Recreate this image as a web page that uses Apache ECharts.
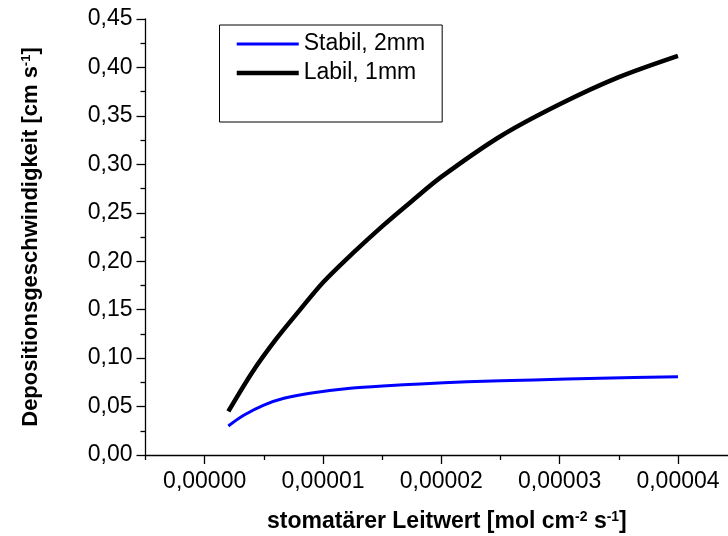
<!DOCTYPE html>
<html>
<head>
<meta charset="utf-8">
<script src="https://cdn.jsdelivr.net/npm/echarts@6/dist/echarts.min.js"></script>
<style>html,body{margin:0;padding:0;background:#fff}#c{width:728px;height:536px}</style>
</head>
<body>
<div id="c"></div>
<script>
var stabilX = [0.2e-5,0.33e-5,0.5e-5,0.67e-5,0.89e-5,1.23e-5,1.54e-5,1.82e-5,2.22e-5,2.78e-5,3.34e-5,4.0e-5];
var stabilY = [0.030,0.041,0.0515,0.0585,0.0637,0.0688,0.0715,0.0733,0.0755,0.0775,0.0792,0.0808];
var labilX = [0.2e-5,0.4e-5,0.6e-5,0.8e-5,1.0e-5,1.25e-5,1.5e-5,1.75e-5,2.0e-5,2.5e-5,3.0e-5,3.5e-5,4.0e-5];
var labilY = [0.045,0.085,0.119,0.149,0.178,0.208,0.236,0.262,0.287,0.329,0.362,0.390,0.412];
var xMajorTicks = [0,1e-5,2e-5,3e-5,4e-5,5e-5];
var xMinorTicks = [-0.5e-5,0.5e-5,1.5e-5,2.5e-5,3.5e-5,4.5e-5];
var seriesNames = ['Stabil, 2mm','Labil, 1mm'];

function pairs(xs, ys){ return xs.map(function(x,i){ return [x, ys[i]]; }); }

var font = 'Arial, "Liberation Sans", sans-serif';
var chart = echarts.init(document.getElementById('c'), null, {renderer:'canvas'});
chart.setOption({
  animation:false,
  backgroundColor:'#fff',
  grid:{left:145.5, top:19, width:650.8, height:436, containLabel:false, outerBoundsMode:'none'},
  legend:{
    left:219.5, top:25, orient:'vertical',
    data:[
      {name:seriesNames[0], lineStyle:{width:3, color:'#0000ff'}},
      {name:seriesNames[1], lineStyle:{width:4.5, color:'#000'}}
    ],
    borderColor:'#000', borderWidth:1, borderRadius:0,
    padding:[6,17,36,15],
    itemWidth:62, itemHeight:14, itemGap:3,
    itemStyle:{opacity:0},
    textStyle:{fontFamily:font, fontSize:23, color:'#000', lineHeight:26}
  },
  xAxis:[{
    type:'value', min:-0.5e-5, max:5e-5, interval:0.5e-5,
    axisLine:{onZero:false, lineStyle:{color:'#000', width:1.3}},
    axisTick:{show:true, customValues:xMajorTicks, length:9, lineStyle:{color:'#000', width:1.3}},
    axisLabel:{customValues:xMajorTicks, margin:15, color:'#000', fontFamily:font, fontSize:23,
      formatter:function(v){ return v.toFixed(5).replace('.', ','); }},
    splitLine:{show:false},
    name:'{b|stomatärer Leitwert [mol cm}{s|-2}{b| s}{s|-1}{b|]}',
    nameLocation:'middle', nameGap:55,
    nameTextStyle:{padding:[0,48,0,0], rich:{
      b:{fontFamily:font, fontSize:23, fontWeight:'bold', color:'#000'},
      s:{fontFamily:font, fontSize:14, fontWeight:'bold', color:'#000', verticalAlign:'top', padding:[0,0,10,0]}
    }}
  },{
    type:'value', min:-0.5e-5, max:5e-5, interval:0.5e-5, position:'bottom',
    axisLine:{show:false, onZero:false},
    axisTick:{show:true, customValues:xMinorTicks, length:5, lineStyle:{color:'#000', width:1.3}},
    axisLabel:{show:false}, splitLine:{show:false}
  }],
  yAxis:{
    type:'value', min:0, max:0.45, interval:0.05,
    axisLine:{show:true, onZero:false, lineStyle:{color:'#000', width:1.3}},
    axisTick:{show:true, length:9, lineStyle:{color:'#000', width:1.3}},
    minorTick:{show:true, splitNumber:2, length:5, lineStyle:{color:'#000', width:1.3}},
    axisLabel:{margin:13, color:'#000', fontFamily:font, fontSize:23,
      formatter:function(v){ return v.toFixed(2).replace('.', ','); }},
    splitLine:{show:false},
    name:'{b|Depositionsgeschwindigkeit [cm s}{s|-1}{b|]}',
    nameLocation:'middle', nameGap:103,
    nameTextStyle:{rich:{
      b:{fontFamily:font, fontSize:22, fontWeight:'bold', color:'#000'},
      s:{fontFamily:font, fontSize:13, fontWeight:'bold', color:'#000', verticalAlign:'top', padding:[0,0,10,0]}
    }}
  },
  series:[{
    name:seriesNames[0], type:'line', xAxisIndex:0, data:pairs(stabilX, stabilY),
    smooth:0.3, symbol:'none', lineStyle:{color:'#0000ff', width:3}, itemStyle:{color:'#0000ff'}
  },{
    name:seriesNames[1], type:'line', xAxisIndex:0, data:pairs(labilX, labilY),
    smooth:0.3, symbol:'none', lineStyle:{color:'#000', width:4.5}, itemStyle:{color:'#000'}
  }]
});
</script>
</body>
</html>
